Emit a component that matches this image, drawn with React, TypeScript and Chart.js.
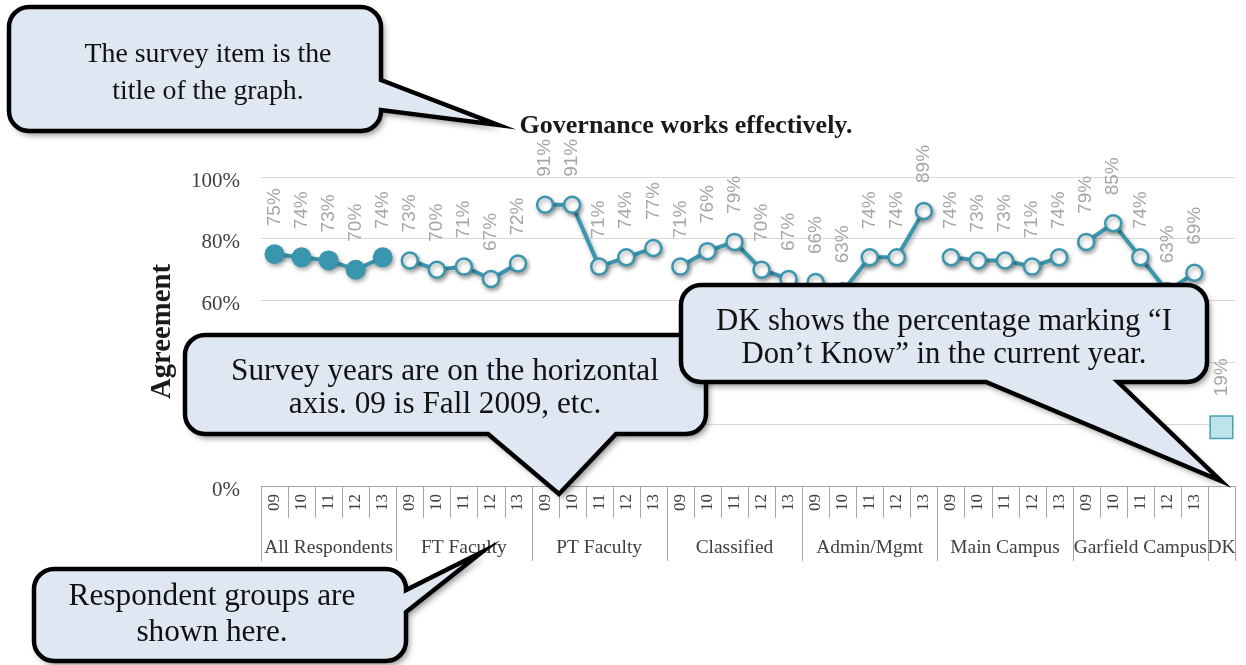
import React, { useEffect, useRef } from 'react';
import { Chart, registerables } from 'chart.js';

Chart.register(...registerables);

// ---------- data ----------
const years = ['09', '10', '11', '12', '13'];
const groupNames = ['All Respondents', 'FT Faculty', 'PT Faculty', 'Classified', 'Admin/Mgmt', 'Main Campus', 'Garfield Campus'];
const allRespondents = [75, 74, 73, 70, 74];
const ftFaculty = [73, 70, 71, 67, 72];
const ptFaculty = [91, 91, 71, 74, 77];
const classified = [71, 76, 79, 70, 67];
const adminMgmt = [66, 63, 74, 74, 89];
const mainCampus = [74, 73, 73, 71, 74];
const garfieldCampus = [79, 85, 74, 63, 69];
const dkName = 'DK';
const dkValue = [19];
const yTickValues = [0, 20, 40, 60, 80, 100];
const chartTitle = 'Governance works effectively.';
const yAxisTitle = 'Agreement';

const groupValues = [allRespondents, ftFaculty, ptFaculty, classified, adminMgmt, mainCampus, garfieldCampus];

// ---------- callout annotations ----------
const callouts = [
  {
    lines: ['The survey item is the', 'title of the graph.'],
    box: [9, 7, 372, 124],
    tail: { edge: 'right', a: 80, b: 110, tip: [498, 125] },
    text: { cx: 208, ys: [55, 92], width: 247 },
  },
  {
    lines: ['Survey years are on the horizontal', 'axis. 09 is Fall 2009, etc.'],
    box: [185, 335, 521, 99],
    tail: { edge: 'bottom', a: 488, b: 616, tip: [559, 494] },
    text: { cx: 445, ys: [372, 405], width: 428 },
  },
  {
    lines: ['DK shows the percentage marking \u201cI', 'Don\u2019t Know\u201d in the current year.'],
    box: [681, 285, 526, 97],
    tail: { edge: 'bottom', a: 986, b: 1118, tip: [1221, 481] },
    text: { cx: 944, ys: [322, 355], width: 456 },
  },
  {
    lines: ['Respondent groups are', 'shown here.'],
    box: [34, 569, 372, 92],
    tail: { edge: 'right', a: 590, b: 612, tip: [482, 552] },
    text: { cx: 212, ys: [597, 633], width: 287 },
  },
];

const TEAL = '#3a96ae';
const SERIF = "'Liberation Serif', serif";
const SANS = "'Liberation Sans', sans-serif";

function fitSize(ctx: CanvasRenderingContext2D, text: string, width: number, family: string, weight: string) {
  ctx.font = `${weight} 100px ${family}`;
  const w = ctx.measureText(text).width;
  return (100 * width) / w;
}

function calloutPath(ctx: CanvasRenderingContext2D, box: number[], tail: any, r: number) {
  const [x, y, w, h] = box;
  const tip = tail.tip;
  ctx.beginPath();
  ctx.moveTo(x + r, y);
  if (tail.edge === 'top') {
    ctx.lineTo(tail.a, y);
    ctx.lineTo(tip[0], tip[1]);
    ctx.lineTo(tail.b, y);
  }
  ctx.lineTo(x + w - r, y);
  ctx.arcTo(x + w, y, x + w, y + r, r);
  if (tail.edge === 'right') {
    ctx.lineTo(x + w, tail.a);
    ctx.lineTo(tip[0], tip[1]);
    ctx.lineTo(x + w, tail.b);
  }
  ctx.lineTo(x + w, y + h - r);
  ctx.arcTo(x + w, y + h, x + w - r, y + h, r);
  if (tail.edge === 'bottom') {
    ctx.lineTo(tail.b, y + h);
    ctx.lineTo(tip[0], tip[1]);
    ctx.lineTo(tail.a, y + h);
  }
  ctx.lineTo(x + r, y + h);
  ctx.arcTo(x, y + h, x, y + h - r, r);
  ctx.lineTo(x, y + r);
  ctx.arcTo(x, y, x + r, y, r);
  ctx.closePath();
}

const overlayPlugin = {
  id: 'overlay',
  beforeDatasetDraw(chart: any, args: any) {
    const ds = chart.data.datasets[args.index];
    const ctx = chart.ctx;
    ctx.save();
    if (ds.shadow) {
      ctx.shadowColor = 'rgba(0,0,0,0.35)';
      ctx.shadowBlur = 4;
      ctx.shadowOffsetX = 1.5;
      ctx.shadowOffsetY = 2.5;
    }
  },
  afterDatasetDraw(chart: any) {
    chart.ctx.restore();
  },
  afterDatasetsDraw(chart: any) {
    const ctx = chart.ctx;
    ctx.save();
    ctx.font = `19px ${SANS}`;
    ctx.fillStyle = '#a6a6a6';
    ctx.textAlign = 'left';
    ctx.textBaseline = 'middle';
    chart.data.datasets.forEach((ds: any, di: number) => {
      const meta = chart.getDatasetMeta(di);
      ds.data.forEach((v: any, i: number) => {
        if (v == null) return;
        const el = meta.data[i];
        ctx.save();
        ctx.translate(el.x, el.y - ds.labelOffset);
        ctx.rotate(-Math.PI / 2);
        ctx.fillText(`${v}%`, 0, 0);
        ctx.restore();
      });
    });
    ctx.restore();
  },
  afterDraw(chart: any) {
    const ctx = chart.ctx;
    const area = chart.chartArea;
    const xs = chart.scales.x;
    const n = chart.data.labels.length;
    const slot = xs.getPixelForValue(1) - xs.getPixelForValue(0);
    const boundary = (i: number) => xs.getPixelForValue(i) - slot / 2;

    // title
    ctx.save();
    const tSize = fitSize(ctx, chartTitle, 333, SERIF, 'bold');
    ctx.font = `bold ${tSize}px ${SERIF}`;
    ctx.fillStyle = '#1a1a1a';
    ctx.textAlign = 'center';
    ctx.textBaseline = 'middle';
    ctx.fillText(chartTitle, 686, 126);

    // y-axis title
    const ySize = fitSize(ctx, yAxisTitle, 135, SERIF, 'bold');
    ctx.font = `bold ${ySize}px ${SERIF}`;
    ctx.translate(163, (area.top + area.bottom) / 2);
    ctx.rotate(-Math.PI / 2);
    ctx.fillText(yAxisTitle, 0, 0);
    ctx.restore();

    // category separators and group labels
    ctx.save();
    ctx.strokeStyle = '#a6a6a6';
    ctx.lineWidth = 1;
    const per = years.length;
    for (let i = 0; i <= n; i++) {
      const isGroup = i % per === 0 || i === n;
      const x = Math.round(boundary(i)) + 0.5;
      ctx.beginPath();
      ctx.moveTo(x, area.bottom);
      ctx.lineTo(x, area.bottom + (isGroup ? 75 : 32));
      ctx.stroke();
    }
    const gSize = fitSize(ctx, groupNames[0], 129, SERIF, 'normal');
    ctx.font = `${gSize}px ${SERIF}`;
    ctx.fillStyle = '#404040';
    ctx.textAlign = 'center';
    ctx.textBaseline = 'middle';
    const allGroups = [...groupNames, dkName];
    allGroups.forEach((name, g) => {
      const start = g * per;
      const end = g < groupNames.length ? start + per : n;
      const cx = (boundary(start) + boundary(end)) / 2;
      ctx.fillText(name, cx, area.bottom + 62);
    });
    ctx.restore();

    // callouts
    callouts.forEach((c) => {
      ctx.save();
      calloutPath(ctx, c.box, c.tail, 20);
      ctx.shadowColor = 'rgba(0,0,0,0.45)';
      ctx.shadowBlur = 6;
      ctx.shadowOffsetX = 3;
      ctx.shadowOffsetY = 4;
      ctx.fillStyle = '#dfe7f2';
      ctx.fill();
      ctx.shadowColor = 'transparent';
      ctx.lineJoin = 'miter';
      ctx.miterLimit = 10;
      ctx.lineWidth = 4.5;
      ctx.strokeStyle = '#000';
      ctx.stroke();
      const s = fitSize(ctx, c.lines[0], c.text.width, SERIF, 'normal');
      ctx.font = `${s}px ${SERIF}`;
      ctx.fillStyle = '#111';
      ctx.textAlign = 'center';
      ctx.textBaseline = 'middle';
      c.lines.forEach((ln, k) => ctx.fillText(ln, c.text.cx, c.text.ys[k]));
      ctx.restore();
    });
  },
};

export default function App() {
  const ref = useRef<HTMLCanvasElement>(null);
  useEffect(() => {
    const labels: string[] = [];
    groupNames.forEach(() => years.forEach((y) => labels.push(y)));
    labels.push('');
    const n = labels.length;

    const datasets: any[] = groupValues.map((vals, g) => {
      const data: (number | null)[] = new Array(n).fill(null);
      vals.forEach((v, i) => (data[g * years.length + i] = v));
      const filled = g === 0;
      return {
        type: 'line',
        label: groupNames[g],
        data,
        borderColor: TEAL,
        borderWidth: 4,
        spanGaps: false,
        pointRadius: filled ? 10 : 8,
        pointBackgroundColor: filled ? TEAL : '#ffffff',
        pointBorderColor: TEAL,
        pointBorderWidth: filled ? 0 : 2.5,
        shadow: true,
        labelOffset: 28,
        clip: false,
      };
    });
    const dkData: (number | null)[] = new Array(n).fill(null);
    dkData[n - 1] = dkValue[0];
    datasets.push({
      type: 'line',
      label: dkName,
      data: dkData,
      showLine: false,
      pointStyle: 'rect',
      pointRadius: 16,
      pointBackgroundColor: '#bfe3ea',
      pointBorderColor: '#4aa0b6',
      pointBorderWidth: 1.5,
      shadow: false,
      labelOffset: 31,
      clip: false,
    });

    const chart = new Chart(ref.current as HTMLCanvasElement, {
      type: 'line',
      data: { labels, datasets },
      options: {
        responsive: false,
        animation: false,
        devicePixelRatio: 1,
        layout: { autoPadding: false, padding: { top: 177, right: 11, bottom: 0, left: 0 } },
        plugins: { legend: { display: false }, tooltip: { enabled: false }, title: { display: false } },
        events: [],
        scales: {
          x: {
            type: 'category',
            offset: true,
            grid: { display: false, drawTicks: false },
            border: { display: true, color: '#a6a6a6', width: 1 },
            ticks: {
              autoSkip: false,
              minRotation: 90,
              maxRotation: 90,
              padding: 8,
              color: '#404040',
              font: { family: SERIF, size: 17 },
            },
            afterFit: (s: any) => {
              s.height = 179;
              s.paddingLeft = 0;
              s.paddingRight = 0;
            },
          },
          y: {
            min: 0,
            max: 100,
            afterBuildTicks: (s: any) => {
              s.ticks = yTickValues.map((v) => ({ value: v }));
            },
            grid: { color: '#d9d9d9', drawTicks: false, lineWidth: 1 },
            border: { display: false },
            ticks: {
              padding: 21,
              labelOffset: 4,
              color: '#404040',
              font: { family: SERIF, size: 21 },
              callback: (v: any) => `${v}%`,
            },
            afterFit: (s: any) => {
              s.width = 261;
            },
          },
        },
      } as any,
      plugins: [overlayPlugin as any],
    });
    return () => chart.destroy();
  }, []);

  return (
    <div style={{ position: 'fixed', left: 0, top: 0, width: 1246, height: 665, background: '#fff' }}>
      <canvas ref={ref} width={1246} height={665} style={{ display: 'block', width: 1246, height: 665 }} />
    </div>
  );
}
